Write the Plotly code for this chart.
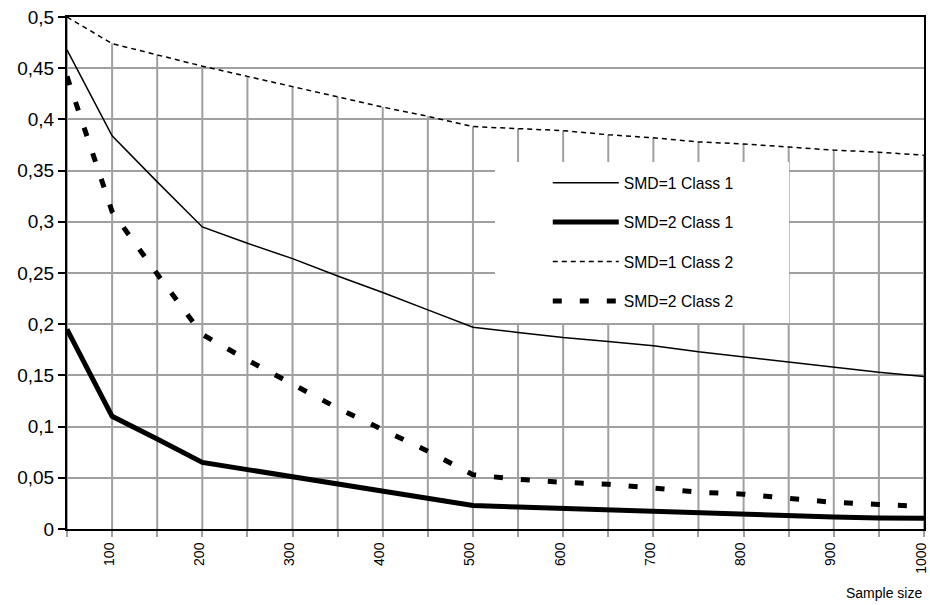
import plotly.graph_objects as go

# Sample sizes (category positions on the x axis)
sample_size = [50, 100, 150, 200, 250, 300, 350, 400, 450, 500,
               550, 600, 650, 700, 750, 800, 850, 900, 950, 1000]

# Estimated values for each design
smd1_class1 = [0.468, 0.384, 0.339, 0.295, 0.279, 0.264, 0.247, 0.231, 0.214, 0.197,
               0.192, 0.187, 0.183, 0.179, 0.173, 0.168, 0.163, 0.158, 0.153, 0.149]
smd2_class1 = [0.195, 0.110, 0.088, 0.065, 0.058, 0.051, 0.044, 0.037, 0.030, 0.023,
               0.0215, 0.020, 0.019, 0.0176, 0.016, 0.0146, 0.0134, 0.0117, 0.0107, 0.0104]
smd1_class2 = [0.500, 0.474, 0.463, 0.452, 0.442, 0.432, 0.422, 0.412, 0.403, 0.393,
               0.391, 0.389, 0.385, 0.382, 0.378, 0.376, 0.373, 0.370, 0.368, 0.365]
smd2_class2 = [0.442, 0.310, 0.249, 0.190, 0.165, 0.141, 0.118, 0.097, 0.076, 0.053,
               0.0485, 0.0456, 0.0436, 0.040, 0.036, 0.034, 0.030, 0.026, 0.024, 0.022]

x_tick_labels = ["" if v % 100 else str(v) for v in sample_size]
y_tick_vals = [0, 0.05, 0.1, 0.15, 0.2, 0.25, 0.3, 0.35, 0.4, 0.45, 0.5]
y_tick_labels = ["0", "0,05", "0,1", "0,15", "0,2", "0,25", "0,3", "0,35", "0,4", "0,45", "0,5"]

FONT = "Liberation Sans, Arial, sans-serif"
GRID = "#a0a0a0"

fig = go.Figure()

# Drop lines from the axis up to the highest series at every sample size
all_series = [smd1_class1, smd2_class1, smd1_class2, smd2_class2]
drop_x, drop_y = [], []
for i, xv in enumerate(sample_size):
    top = max(s[i] for s in all_series)
    drop_x += [xv, xv, None]
    drop_y += [0, top, None]
fig.add_trace(go.Scatter(x=drop_x, y=drop_y, mode="lines",
                         line=dict(color=GRID, width=2),
                         showlegend=False, hoverinfo="skip"))

series = [
    ("SMD=1 Class 1", smd1_class1, dict(color="black", width=1.5)),
    ("SMD=2 Class 1", smd2_class1, dict(color="black", width=5)),
    ("SMD=1 Class 2", smd1_class2, dict(color="black", width=1.5, dash="5px,4px")),
    ("SMD=2 Class 2", smd2_class2, dict(color="black", width=5, dash="9px,18px")),
]
for i, (name, vals, line) in enumerate(series):
    fig.add_trace(go.Scatter(x=sample_size, y=vals, mode="lines", name=name,
                             line=line, legendgroup=f"g{i}"))

# White panel behind the legend
fig.add_shape(type="rect", xref="paper", yref="paper",
              x0=0.4994, x1=0.8425, y0=0.4023, y1=0.7168,
              fillcolor="white", line=dict(width=0), layer="above")

fig.add_annotation(text="Sample size", xref="paper", yref="paper",
                   x=1.0, y=-0.125, xanchor="right", yanchor="middle",
                   showarrow=False, font=dict(family=FONT, size=14, color="black"))

fig.update_layout(
    width=930, height=605,
    margin=dict(l=67, r=6, t=17, b=76, autoexpand=False),
    paper_bgcolor="white", plot_bgcolor="white",
    font=dict(family=FONT, size=15, color="black"),
    showlegend=True,
    legend=dict(x=0.561, y=0.709, xanchor="left", yanchor="top",
                bgcolor="rgba(0,0,0,0)", borderwidth=0,
                itemwidth=66, tracegroupgap=16,
                font=dict(family=FONT, size=15.7, color="black")),
    xaxis=dict(range=[50, 1000], tickmode="array", automargin=False,
               tickvals=sample_size, ticktext=x_tick_labels, tickangle=-90,
               ticklabeloverflow="allow", ticklabelshift=-3,
               ticks="outside", ticklen=6, tickcolor=GRID, tickwidth=2,
               showgrid=False, zeroline=False,
               showline=True, linecolor="black", linewidth=2, mirror=True,
               tickfont=dict(family=FONT, size=14, color="black")),
    yaxis=dict(range=[0, 0.5], tickmode="array", automargin=False,
               tickvals=y_tick_vals, ticktext=y_tick_labels,
               ticklabeloverflow="allow",
               ticks="outside", ticklen=7, tickcolor="black", tickwidth=1.5,
               showgrid=True, gridcolor=GRID, gridwidth=1.5, zeroline=False,
               showline=True, linecolor="black", linewidth=2, mirror=True,
               tickfont=dict(family=FONT, size=19, color="black")),
)

fig.write_html("out.html")
